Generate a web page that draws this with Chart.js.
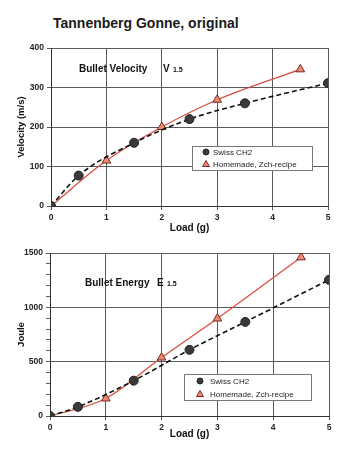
<!DOCTYPE html>
<html>
<head>
<meta charset="utf-8">
<script src="https://cdn.jsdelivr.net/npm/chart.js@4/dist/chart.umd.min.js"></script>
<style>
body{margin:0;background:#fff;width:347px;height:450px;overflow:hidden;position:relative;font-family:"Liberation Sans",Arial,sans-serif}
#titulo{position:absolute;left:53px;top:14px;font-size:14px;font-weight:bold;color:#1a1a1a;line-height:18px}
.caja{position:absolute;left:0;width:347px;height:210px}
</style>
</head>
<body>
<div id="titulo">Tannenberg Gonne, original</div>
<div class="caja" style="top:30px"><canvas id="velocidad"></canvas></div>
<div class="caja" style="top:240px"><canvas id="energia"></canvas></div>
<script>
// datos
const loadSwiss = [0, 0.5, 1.5, 2.5, 3.5, 5];
const loadHome = [0, 1, 2, 3, 4.5];
const velSwiss = [0, 77, 160, 220, 260, 311];
const velHome = [0, 115, 200, 269, 346];
const energySwiss = [0, 84, 325, 609, 866, 1253];
const energyHome = [0, 161, 538, 897, 1460];
const seriesNames = ['Swiss CH2', 'Homemade, Zch-recipe'];

const FONT = '"Liberation Sans", Arial, sans-serif';
const GRID = '#5a5a5a';

function toPoints(xs, ys){
    return xs.map((x, i) => ({x: x, y: ys[i]}));
}

// caja de leyenda y rotulo dentro del area
const cajaLeyenda = {
    id: 'cajaLeyenda',
    afterDraw(chart, args, o){
        const ctx = chart.ctx;
        const a = chart.chartArea;
        ctx.save();
        // rotulo
        ctx.fillStyle = '#111';
        ctx.textBaseline = 'middle';
        ctx.font = 'bold 10px ' + FONT;
        ctx.fillText(o.label, a.left + o.lx, a.top + o.ly);
        ctx.fillText(o.sym, a.left + o.sx, a.top + o.ly);
        ctx.font = 'bold 7px ' + FONT;
        ctx.fillText('1.5', a.left + o.ex, a.top + o.ly + 1);
        // caja
        const x = a.left + o.x, y = a.top + o.y;
        ctx.fillStyle = '#fff';
        ctx.fillRect(x, y, o.w, o.h);
        ctx.strokeStyle = '#777';
        ctx.lineWidth = 1;
        ctx.strokeRect(Math.round(x) + 0.5, Math.round(y) + 0.5, o.w, o.h);
        chart.data.datasets.forEach((ds, i) => {
            const cy = y + o.row0 + i * o.gap;
            const mx = x + o.mx;
            ctx.beginPath();
            if(ds.pointStyle === 'triangle'){
                ctx.moveTo(mx, cy - 3.5);
                ctx.lineTo(mx + 3.5, cy + 2.5);
                ctx.lineTo(mx - 3.5, cy + 2.5);
                ctx.closePath();
            }else{
                ctx.arc(mx, cy, 3, 0, Math.PI * 2);
            }
            ctx.fillStyle = ds.pointBackgroundColor;
            ctx.fill();
            ctx.strokeStyle = ds.pointBorderColor;
            ctx.stroke();
            ctx.fillStyle = '#222';
            ctx.font = '8px ' + FONT;
            ctx.fillText(ds.label, x + o.tx, cy + 0.5);
        });
        ctx.restore();
    }
};

function makeDatasets(ys1, ys2){
    return [
        {
            label: seriesNames[0],
            data: toPoints(loadSwiss, ys1),
            borderColor: '#111',
            borderWidth: 1.6,
            borderDash: [5, 3],
            cubicInterpolationMode: 'monotone',
            pointStyle: 'circle',
            pointRadius: 4.5,
            pointBackgroundColor: '#3a3a3a',
            pointBorderColor: '#222',
            pointBorderWidth: 1
        },
        {
            label: seriesNames[1],
            data: toPoints(loadHome, ys2),
            borderColor: '#d9503f',
            borderWidth: 1.3,
            cubicInterpolationMode: 'monotone',
            pointStyle: 'triangle',
            pointRadius: 5,
            pointBackgroundColor: '#ee8a74',
            pointBorderColor: '#7a2a20',
            pointBorderWidth: 1
        }
    ];
}

function makeChart(el, cfg){
    return new Chart(el, {
        type: 'line',
        data: {datasets: makeDatasets(cfg.ys1, cfg.ys2)},
        plugins: [cajaLeyenda],
        options: {
            responsive: true,
            maintainAspectRatio: false,
            animation: false,
            layout: {padding: {top: cfg.top, right: cfg.right, left: 0, bottom: 0}},
            plugins: {
                legend: {display: false},
                tooltip: {enabled: false},
                cajaLeyenda: cfg.box
            },
            scales: {
                x: {
                    type: 'linear',
                    min: 0, max: 5,
                    ticks: {stepSize: 1, color: '#222', font: {family: FONT, size: 8.5, weight: 'bold'}, padding: 3},
                    grid: {color: GRID, tickLength: 4},
                    border: {color: '#333'},
                    title: {display: true, text: 'Load (g)', color: '#111',
                        font: {family: FONT, size: 10, weight: 'bold'}, padding: {top: 0, bottom: cfg.xpad}},
                    afterFit(s){ s.height = 34; }
                },
                y: {
                    min: 0, max: cfg.ymax,
                    ticks: {
                        stepSize: cfg.step, autoSkip: false, color: '#222', padding: 3,
                        font: {family: FONT, size: 8.5, weight: 'bold'},
                        callback: v => (v % cfg.major === 0 ? v : '')
                    },
                    grid: {
                        color: c => (c.tick && c.tick.value % cfg.major === 0 ? GRID : 'rgba(0,0,0,0)'),
                        tickColor: GRID, tickLength: 4
                    },
                    border: {color: '#333'},
                    title: {display: true, text: cfg.ytitle, color: '#111',
                        font: {family: FONT, size: 9.5, weight: 'bold'}, padding: {top: 16, bottom: 0}},
                    afterFit(s){ s.width = cfg.left; }
                }
            }
        }
    });
}

/* 1. VELOCIDAD */
makeChart(document.getElementById('velocidad'), {
    ys1: velSwiss, ys2: velHome,
    top: 18, right: 19, left: 51, xpad: 6,
    ymax: 400, step: 100, major: 100,
    ytitle: 'Velocity (m/s)',
    box: {label: 'Bullet Velocity', sym: 'V', lx: 28, sx: 112, ex: 122, ly: 21,
          x: 141, y: 98, w: 120, h: 24, row0: 6, gap: 12, mx: 14, tx: 21}
});

/* 2. ENERGIA */
makeChart(document.getElementById('energia'), {
    ys1: energySwiss, ys2: energyHome,
    top: 13, right: 18, left: 50, xpad: 10,
    ymax: 1500, step: 100, major: 500,
    ytitle: 'Joule',
    box: {label: 'Bullet Energy', sym: 'E', lx: 35, sx: 107, ex: 117, ly: 30,
          x: 134, y: 121, w: 127, h: 26, row0: 7, gap: 13, mx: 16, tx: 26}
});
</script>
</body>
</html>
